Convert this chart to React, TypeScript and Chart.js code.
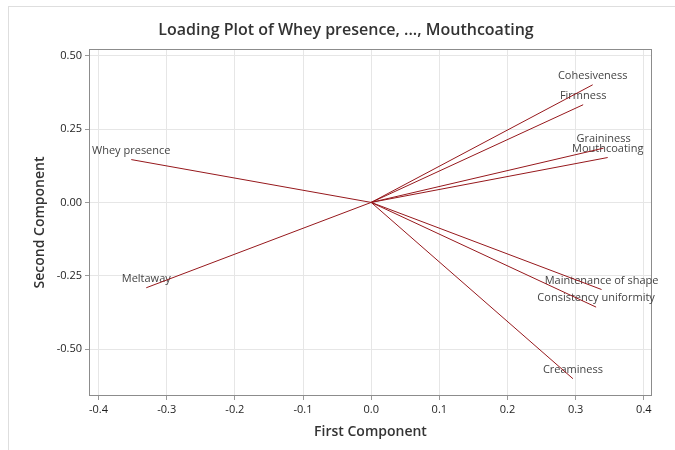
import React, { useEffect, useRef } from "react";
import { Chart, registerables } from "chart.js";

Chart.register(...registerables);

// Loadings of each sensory attribute on the first two principal components
const variables = [
  "Whey presence",
  "Meltaway",
  "Cohesiveness",
  "Firmness",
  "Graininess",
  "Mouthcoating",
  "Maintenance of shape",
  "Consistency uniformity",
  "Creaminess",
];
const firstComponent = [-0.352, -0.330, 0.325, 0.311, 0.341, 0.347, 0.338, 0.330, 0.296];
const secondComponent = [0.146, -0.291, 0.401, 0.333, 0.185, 0.153, -0.297, -0.357, -0.601];

const xTicks = [-0.4, -0.3, -0.2, -0.1, 0.0, 0.1, 0.2, 0.3, 0.4];
const yTicks = [-0.5, -0.25, 0.0, 0.25, 0.5];

const TITLE = "Loading Plot of Whey presence, ..., Mouthcoating";
const X_TITLE = "First Component";
const Y_TITLE = "Second Component";

const FONT = "'Open Sans', 'Noto Sans', sans-serif";
const LINE_COLOR = "rgb(150, 24, 28)";

const annotations = {
  id: "loadingAnnotations",
  beforeDatasetsDraw(chart: any) {
    const { ctx, chartArea, scales } = chart;
    ctx.save();
    // plot frame
    ctx.strokeStyle = "#8c8c8c";
    ctx.lineWidth = 1;
    ctx.strokeRect(
      Math.round(chartArea.left) + 0.5,
      Math.round(chartArea.top) + 0.5,
      Math.round(chartArea.right - chartArea.left) - 1,
      Math.round(chartArea.bottom - chartArea.top) - 1
    );
    // variable names above the loading endpoints
    ctx.fillStyle = "#444";
    ctx.font = `11px ${FONT}`;
    ctx.textAlign = "center";
    ctx.textBaseline = "alphabetic";
    variables.forEach((name, i) => {
      const px = scales.x.getPixelForValue(firstComponent[i]);
      const py = scales.y.getPixelForValue(secondComponent[i]);
      ctx.fillText(name, px, py - 6);
    });
    ctx.restore();
  },
  afterDraw(chart: any) {
    const { ctx, chartArea } = chart;
    ctx.save();
    ctx.fillStyle = "#333";
    ctx.textAlign = "center";
    ctx.textBaseline = "middle";
    ctx.font = `600 16px ${FONT}`;
    ctx.fillText(TITLE, 346, 30);
    ctx.font = `600 14px ${FONT}`;
    ctx.fillText(X_TITLE, (chartArea.left + chartArea.right) / 2, 432);
    ctx.translate(40, (chartArea.top + chartArea.bottom) / 2);
    ctx.rotate(-Math.PI / 2);
    ctx.fillText(Y_TITLE, 0, 0);
    ctx.restore();
  },
};

export default function App() {
  const canvasRef = useRef<HTMLCanvasElement>(null);

  useEffect(() => {
    if (!canvasRef.current) return;
    const datasets = variables.map((name, i) => ({
      label: name,
      data: [
        { x: 0, y: 0 },
        { x: firstComponent[i], y: secondComponent[i] },
      ],
      showLine: true,
      borderColor: LINE_COLOR,
      backgroundColor: LINE_COLOR,
      borderWidth: 1,
      pointRadius: 0,
      pointHoverRadius: 0,
    }));

    const chart = new Chart(canvasRef.current, {
      type: "scatter",
      data: { datasets },
      plugins: [annotations],
      options: {
        animation: false,
        responsive: false,
        maintainAspectRatio: false,
        layout: { padding: { top: 49, right: 23, bottom: 0, left: 0 } },
        plugins: {
          legend: { display: false },
          title: { display: false },
          tooltip: { enabled: false },
        },
        scales: {
          x: {
            type: "linear",
            min: -0.414,
            max: 0.412,
            afterBuildTicks: (scale: any) => {
              scale.ticks = xTicks.map((v) => ({ value: v }));
            },
            afterFit: (scale: any) => {
              scale.height = 54;
            },
            grid: {
              color: "#e6e6e6",
              tickColor: "#9a9a9a",
              tickLength: 4,
              drawTicks: true,
            },
            border: { display: false },
            ticks: {
              color: "#1e1e1e",
              padding: 3,
              maxRotation: 0,
              font: { family: FONT, size: 11 },
              callback: (v: any) => Number(v).toFixed(1),
            },
          },
          y: {
            type: "linear",
            min: -0.66,
            max: 0.523,
            afterBuildTicks: (scale: any) => {
              scale.ticks = yTicks.map((v) => ({ value: v }));
            },
            afterFit: (scale: any) => {
              scale.width = 89;
            },
            grid: {
              color: "#e6e6e6",
              tickColor: "#9a9a9a",
              tickLength: 4,
              drawTicks: true,
            },
            border: { display: false },
            ticks: {
              color: "#1e1e1e",
              padding: 3,
              font: { family: FONT, size: 11 },
              callback: (v: any) => Number(v).toFixed(2),
            },
          },
        },
      },
    });
    return () => chart.destroy();
  }, []);

  return (
    <div style={{ position: "fixed", left: 0, top: 0, width: 675, height: 450, background: "#fff" }}>
      <div
        style={{
          position: "absolute",
          left: 8,
          top: 6,
          right: 0,
          bottom: 0,
          borderLeft: "1px solid #dedede",
          borderTop: "1px solid #dedede",
        }}
      />
      <canvas ref={canvasRef} width={675} height={450} style={{ position: "absolute", left: 0, top: 0 }} />
    </div>
  );
}
